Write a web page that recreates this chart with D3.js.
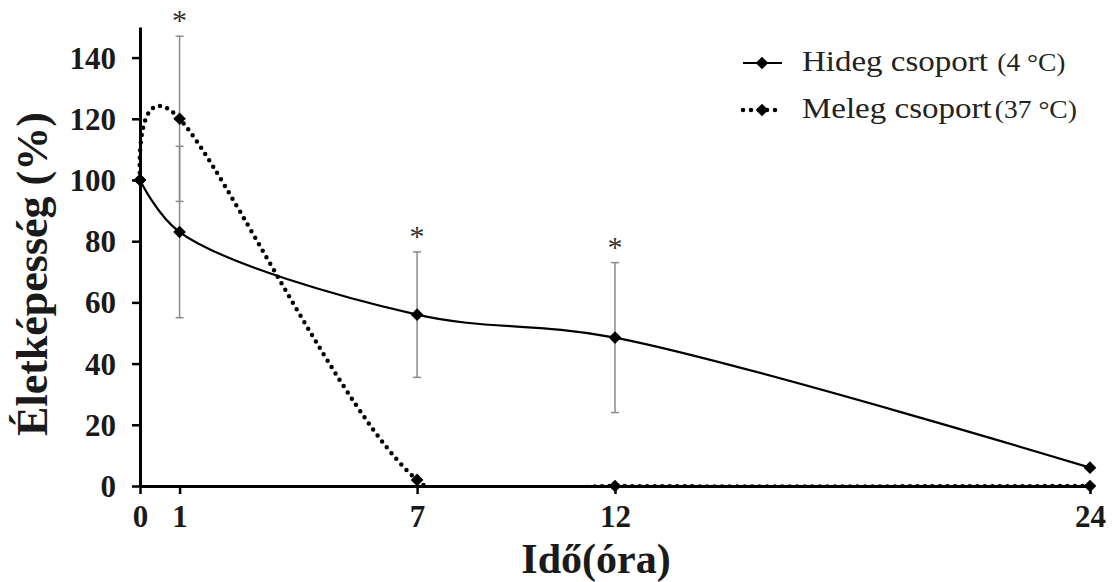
<!DOCTYPE html>
<html>
<head>
<meta charset="utf-8">
<script src="https://cdn.jsdelivr.net/npm/d3@7"></script>
<style>
  body { margin: 0; background: #fff; }
  text { font-family: "Liberation Serif", "Times New Roman", serif; }
</style>
</head>
<body>
<svg id="chart" width="1112" height="582"></svg>
<script>
// data
var hours      = [0, 1, 7, 12, 24];
var hideg      = [100, 83, 56, 48.5, 6];      // 4 °C
var hidegErr   = [0, 28, 20.5, 24.5, 0];
var meleg      = [100, 120, 2, 0, 0];         // 37 °C
var melegErr   = [0, 27, 0, 0, 0];
var starHours  = [1, 7, 12];
var yTicks     = [0, 20, 40, 60, 80, 100, 120, 140];

var svg = d3.select("#chart");

var x = d3.scaleLinear().domain([0, 24]).range([140, 1090]),
    y = d3.scaleLinear().domain([0, 150]).range([486, 27]);

// nothing drawn below the x axis line
svg.append("clipPath").attr("id", "plot-clip")
  .append("rect").attr("x", 0).attr("y", 0).attr("width", 1112).attr("height", y(0) + 2);

/* error bars (behind everything) */
function errBars(vals, errs) {
  for (let i = 0; i < hours.length; i++) {
    if (!errs[i]) continue;
    var cx = x(hours[i]), top = y(vals[i] + errs[i]), bot = y(vals[i] - errs[i]);
    svg.append("line").attr("x1", cx).attr("x2", cx).attr("y1", top).attr("y2", bot)
      .style("stroke", "#8a8a8a").style("stroke-width", 1.5);
    [top, bot].forEach(function(yy) {
      svg.append("line").attr("x1", cx - 4).attr("x2", cx + 4).attr("y1", yy).attr("y2", yy)
        .style("stroke", "#8a8a8a").style("stroke-width", 1.5);
    });
  }
}
errBars(hideg, hidegErr);
errBars(meleg, melegErr);

/* axes */
var yAxis = svg.append("g")
  .attr("transform", "translate(140,0)")
  .call(d3.axisLeft(y).tickValues(yTicks).tickSize(8).tickSizeOuter(0).tickPadding(16));
var xAxis = svg.append("g")
  .attr("transform", "translate(0,486)")
  .call(d3.axisBottom(x).tickValues(hours).tickSize(8).tickSizeOuter(0).tickPadding(10));

[yAxis, xAxis].forEach(function(g) {
  g.select(".domain").style("stroke", "#000").style("stroke-width", 3);
  g.selectAll(".tick line").style("stroke", "#000").style("stroke-width", 2.5);
  g.selectAll(".tick text")
    .style("font-family", "'Liberation Serif', 'Times New Roman', serif")
    .style("font-weight", "bold")
    .style("font-size", "31px")
    .style("fill", "#1a1a1a");
});
yAxis.selectAll(".tick text").attr("dy", "0.34em");
xAxis.selectAll(".tick text").attr("dy", "0.75em");

/* lines */
function lineWith(curve) {
  return d3.line().x(function(d, i) { return x(hours[i]); }).y(function(d) { return y(d); }).curve(curve);
}

svg.append("path").datum(meleg)
  .attr("d", lineWith(d3.curveCatmullRom.alpha(0)))
  .attr("clip-path", "url(#plot-clip)")
  .style("fill", "none").style("stroke", "#000")
  .style("stroke-width", 4.5).style("stroke-linecap", "round")
  .style("stroke-dasharray", "0 7.5");

svg.append("path").datum(hideg)
  .attr("d", lineWith(d3.curveCatmullRom.alpha(0.5)))
  .style("fill", "none").style("stroke", "#000").style("stroke-width", 2.2);

/* markers */
var diamond = d3.symbol().type(d3.symbolSquare).size(80);
function markers(vals) {
  for (let i = 0; i < hours.length; i++) {
    svg.append("path").attr("d", diamond)
      .attr("transform", `translate(${x(hours[i])},${y(vals[i])}) rotate(45)`)
      .style("fill", "#000");
  }
}
markers(meleg);
markers(hideg);

/* significance stars */
starHours.forEach(function(h) {
  var i = hours.indexOf(h);
  var top = Math.min(y(hideg[i] + hidegErr[i]), y(meleg[i] + melegErr[i]));
  svg.append("text")
    .attr("x", x(h)).attr("y", top - 6)
    .style("text-anchor", "middle").style("font-size", "30px").style("fill", "#333")
    .text("*");
});

/* axis titles */
svg.append("text")
  .attr("transform", "translate(47,274) rotate(-90)")
  .style("text-anchor", "middle").style("font-weight", "bold").style("font-size", "44px")
  .style("fill", "#1a1a1a")
  .text("Életképesség (%)");

svg.append("text")
  .attr("x", 596).attr("y", 573)
  .style("text-anchor", "middle").style("font-weight", "bold").style("font-size", "42px")
  .style("fill", "#1a1a1a")
  .text("Idő(óra)");

/* legend */
var legend = [
  {name: "Hideg csoport ", temp: "(4 °C)", dotted: false, y: 63},
  {name: "Meleg csoport", temp: "(37 °C)", dotted: true, y: 110}
];
legend.forEach(function(d) {
  var ln = svg.append("line").attr("x1", 743).attr("x2", 782).attr("y1", d.y).attr("y2", d.y)
    .style("stroke", "#000");
  if (d.dotted) {
    ln.style("stroke-width", 4.5).style("stroke-linecap", "round").style("stroke-dasharray", "0 8");
  } else {
    ln.style("stroke-width", 2.2);
  }
  svg.append("path").attr("d", diamond)
    .attr("transform", `translate(762,${d.y}) rotate(45)`).style("fill", "#000");
  var t = svg.append("text")
    .attr("transform", `translate(802,${d.y + 8}) scale(1.1,1)`)
    .style("font-size", "30px").style("fill", "#222");
  t.append("tspan").text(d.name);
  t.append("tspan").attr("dx", d.dotted ? 3 : 1).style("font-size", "25px").text(d.temp);
});
</script>
</body>
</html>
